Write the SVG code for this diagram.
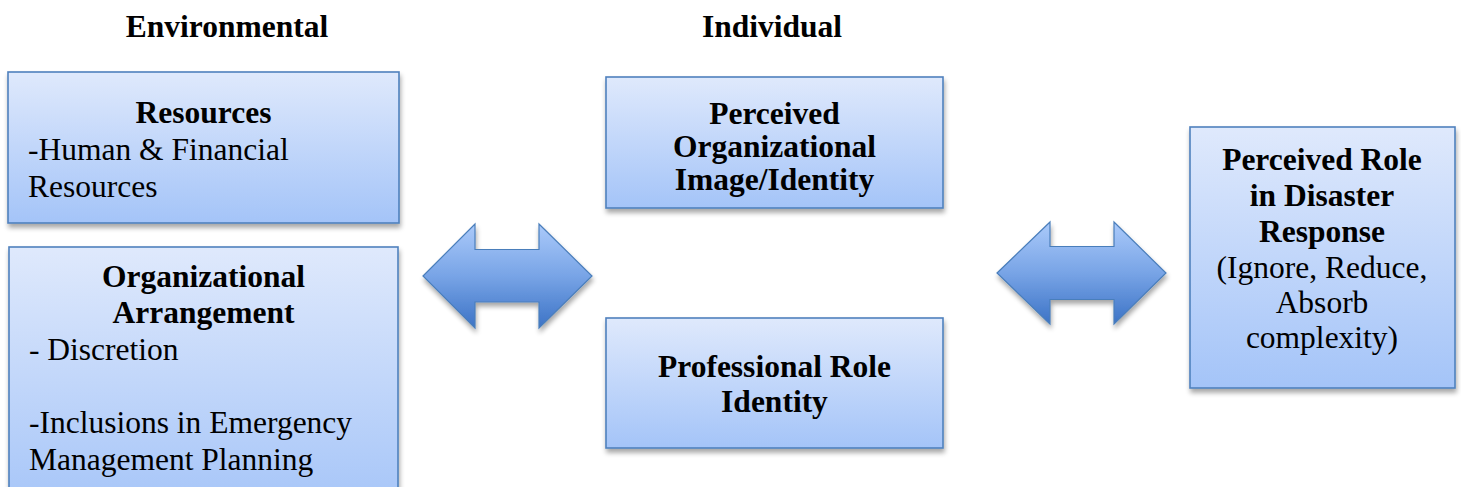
<svg xmlns="http://www.w3.org/2000/svg" width="1461" height="487" viewBox="0 0 1461 487">
  <defs>
    <linearGradient id="boxFill" x1="0" y1="0" x2="0" y2="1">
      <stop offset="0" stop-color="#dfe9fc"/>
      <stop offset="1" stop-color="#a4c4f8"/>
    </linearGradient>
    <linearGradient id="arrowFill" x1="0" y1="0" x2="0" y2="1">
      <stop offset="0" stop-color="#abcafa"/>
      <stop offset="0.5" stop-color="#78a4e6"/>
      <stop offset="1" stop-color="#3c73c6"/>
    </linearGradient>
    <filter id="shadow" x="-10%" y="-10%" width="120%" height="130%">
      <feGaussianBlur in="SourceAlpha" stdDeviation="2.5"/>
      <feOffset dx="1" dy="4" result="b"/>
      <feComponentTransfer><feFuncA type="linear" slope="0.35"/></feComponentTransfer>
      <feMerge><feMergeNode/><feMergeNode in="SourceGraphic"/></feMerge>
    </filter>
  </defs>
  <style>
    .box { fill: url(#boxFill); stroke: #4f81bd; stroke-width: 1.6; filter: url(#shadow); }
    .arrow { fill: url(#arrowFill); stroke: #4a7ebb; stroke-width: 1.2; filter: url(#shadow); }
    text { font-family: "Liberation Serif", "Times New Roman", serif; font-size: 31.5px; fill: #000; }
    .b { font-weight: bold; }
    .c { text-anchor: middle; }
  </style>

  <rect width="1461" height="487" fill="#ffffff"/>

  <!-- column headings -->
  <g id="headings">
    <text class="b c" x="227" y="37">Environmental</text>
    <text class="b c" x="772" y="37">Individual</text>
  </g>

  <!-- two-way arrows -->
  <g id="connectors">
    <polygon class="arrow" points="423,276 475,224 475,249.5 539,249.5 539,224 592,276 539,328 539,302 475,302 475,328"/>
    <polygon class="arrow" points="997,273 1050,222 1050,246.5 1114,246.5 1114,222 1166,273 1114,324 1114,299.5 1050,299.5 1050,324"/>
  </g>

  <g id="resources">
    <rect class="box" x="8" y="72" width="391" height="151"/>
    <text class="b c" x="203.5" y="123">Resources</text>
    <text x="28" y="160">-Human &amp; Financial</text>
    <text x="28" y="197">Resources</text>
  </g>

  <g id="organizational-arrangement">
    <rect class="box" x="9" y="247" width="389" height="270"/>
    <text class="b c" x="203.5" y="287">Organizational</text>
    <text class="b c" x="203.5" y="323">Arrangement</text>
    <text x="29" y="360">- Discretion</text>
    <text x="29" y="433">-Inclusions in Emergency</text>
    <text x="29" y="470">Management Planning</text>
  </g>

  <g id="perceived-organizational-image">
    <rect class="box" x="606" y="77" width="337" height="131"/>
    <text class="b c" x="774.5" y="124">Perceived</text>
    <text class="b c" x="774.5" y="157">Organizational</text>
    <text class="b c" x="774.5" y="190">Image/Identity</text>
  </g>

  <g id="professional-role-identity">
    <rect class="box" x="606" y="318" width="337" height="130"/>
    <text class="b c" x="774.5" y="377">Professional Role</text>
    <text class="b c" x="774.5" y="412">Identity</text>
  </g>

  <g id="perceived-role">
    <rect class="box" x="1190" y="127" width="265" height="261"/>
    <text class="b c" x="1322" y="170">Perceived Role</text>
    <text class="b c" x="1322" y="206">in Disaster</text>
    <text class="b c" x="1322" y="242">Response</text>
    <text class="c" x="1322" y="278">(Ignore, Reduce,</text>
    <text class="c" x="1322" y="313">Absorb</text>
    <text class="c" x="1322" y="348">complexity)</text>
  </g>
</svg>
